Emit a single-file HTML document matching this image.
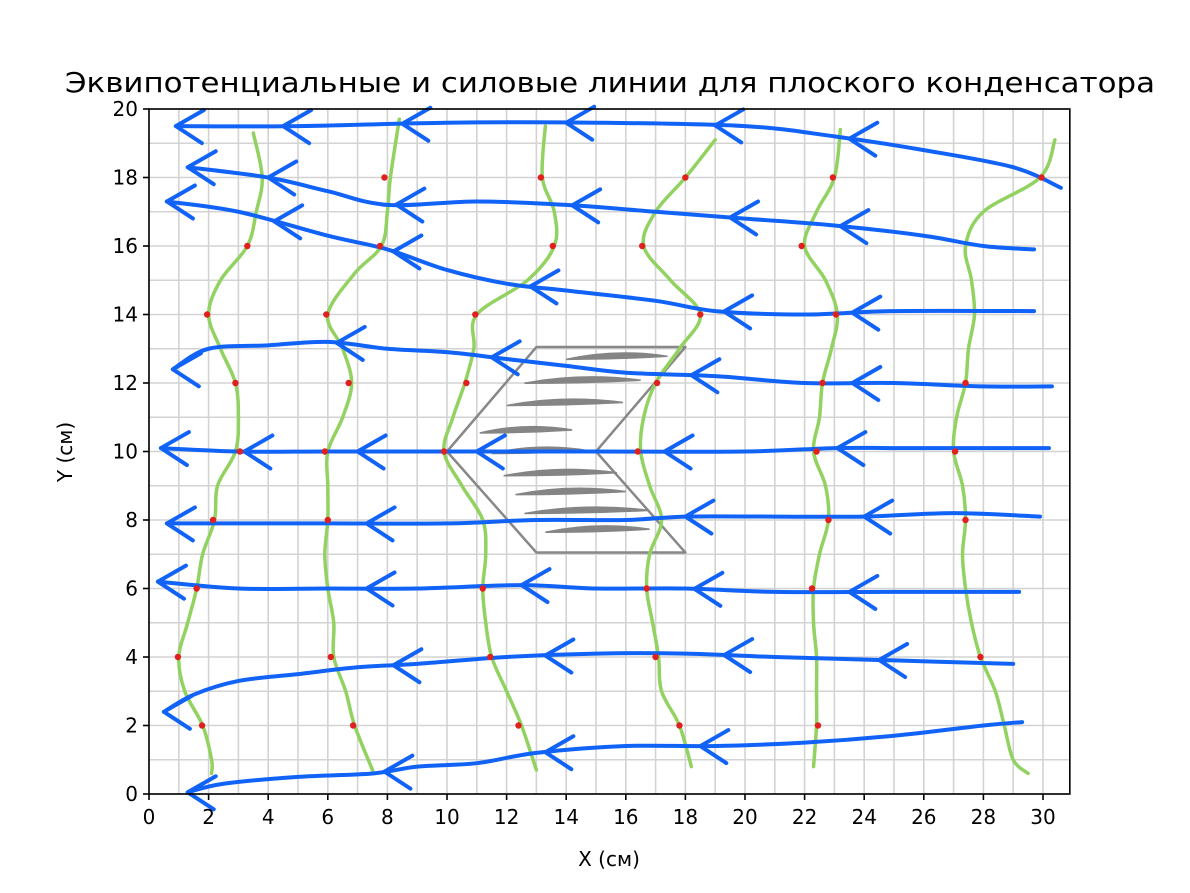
<!DOCTYPE html>
<html><head><meta charset="utf-8">
<style>
html,body{margin:0;padding:0;background:#fff;}
svg{display:block;font-family:"DejaVu Sans","Liberation Sans",sans-serif;}
</style></head>
<body>
<svg id="chart" width="1190" height="893" viewBox="0 0 1190 893" xmlns="http://www.w3.org/2000/svg">
<text x="610" y="92" font-size="27.5" text-anchor="middle" fill="#000" textLength="1090" lengthAdjust="spacingAndGlyphs">Эквипотенциальные и силовые линии для плоского конденсатора</text>
<text x="609" y="866" font-size="20" text-anchor="middle" fill="#000">X (см)</text>
<text transform="translate(72,452) rotate(-90)" font-size="20" text-anchor="middle" fill="#000">Y (см)</text>
<g id="grid"></g>
<g id="gray"></g>
<g id="green"></g>
<g id="blue"></g>
<g id="dots"></g>
<g id="axes"></g>
</svg>
<script>
const xTicks=[0,2,4,6,8,10,12,14,16,18,20,22,24,26,28,30];
const yTicks=[0,2,4,6,8,10,12,14,16,18,20];
const measuredX=[3.3,1.95,2.9,3.05,2.15,1.6,0.97,1.78, 7.75,5.95,6.7,5.9,6.0,6.1,6.85, 13.15,13.55,10.95,10.65,9.9,11.2,11.45,12.4, 18.0,16.55,18.5,17.05,16.4,16.7,17.0,17.8, 22.95,21.9,23.05,22.6,22.4,22.8,22.25,22.45, 29.95,27.4,27.05,27.4,27.9];
const measuredY=[16,14,12,10,8,6,4,2, 16,14,12,10,8,4,2, 18,16,14,12,10,6,4,2, 18,16,14,12,10,6,4,2, 18,16,14,12,10,8,6,2, 18,12,10,8,4];
const measuredX2=[7.9];const measuredY2=[18];
const eq1=[[3.5,19.3],[3.8,18],[3.6,17],[3.3,16],[2.4,15],[2.0,14],[2.4,13],[2.9,12],[3.0,11],[2.9,10],[2.3,9],[2.2,8],[1.8,7],[1.6,6],[1.3,5],[1.0,4],[1.2,3],[1.8,2],[2.1,1],[2.1,0.6]];
const eq2=[[8.4,19.7],[8.1,18],[8.0,17],[7.8,16],[6.9,15.2],[6.0,14],[6.5,13],[6.8,12],[6.5,11],[6.0,10],[6.0,9],[6.0,8],[5.9,7],[6.0,6],[6.2,5],[6.2,4],[6.6,3],[6.9,2],[7.5,0.7]];
const eq3=[[13.3,19.5],[13.2,18],[13.6,17],[13.6,16],[12.7,15],[11.0,14],[10.9,13],[10.6,12],[10.2,11],[9.9,10],[10.5,9],[11.2,8],[11.3,7],[11.2,6],[11.3,5],[11.5,4],[12.0,3],[12.5,2],[13.0,0.7]];
const eq4=[[19.0,19.1],[18,18],[17,17],[16.6,16],[17.5,15],[18.5,14],[17.8,13],[17,12],[16.6,11],[16.5,10],[16.8,9],[17.2,8],[16.8,7],[16.7,6],[16.9,5],[17.1,4],[17.2,3],[17.8,2],[18.2,0.8]];
const eq5=[[23.2,19.4],[23,18],[22.4,17],[22,16],[22.7,15],[23.1,14],[22.9,13],[22.6,12],[22.5,11],[22.3,10],[22.7,9],[22.8,8],[22.5,7],[22.3,6],[22.3,5],[22.4,4],[22.4,3],[22.4,2],[22.3,0.8]];
const eq6=[[30.4,19.1],[29.9,18],[28.0,17],[27.4,16],[27.6,15],[27.7,14],[27.5,13],[27.4,12],[27.1,11],[27.0,10],[27.3,9],[27.4,8],[27.3,7],[27.4,6],[27.6,5],[27.9,4],[28.4,3],[28.7,2],[29,1],[29.5,0.6]];
const f1=[[30.6,17.7],[29,18.3],[26,18.8],[23,19.2],[20,19.5],[15,19.6],[10,19.6],[5,19.5],[1,19.5]];
const f2=[[29.7,15.9],[28,16.0],[26,16.3],[23,16.6],[20,16.8],[17,17.0],[14,17.2],[11,17.3],[8,17.2],[6,17.6],[4,18],[1.3,18.3]];
const f3=[[29.7,14.1],[25,14.1],[22,14.0],[19,14.1],[17,14.4],[14,14.7],[12,14.9],[10,15.3],[8,15.9],[6,16.3],[3,17.0],[0.6,17.3]];
const f4=[[30.3,11.9],[28,11.9],[25,12.0],[22,12.0],[19,12.2],[16,12.3],[14,12.5],[12,12.7],[10,12.9],[8,13.0],[6,13.2],[4,13.1],[2,13.0],[0.8,12.4]];
const f5=[[30.2,10.1],[28,10.1],[25,10.1],[23,10.1],[20,10.0],[15,10.0],[10,10.0],[6,10.0],[3,10.0],[0.4,10.1]];
const f6=[[29.9,8.1],[27,8.2],[24,8.1],[21,8.1],[18,8.1],[16,8.0],[13,8.0],[10,7.9],[6,7.9],[3,7.9],[0.6,7.9]];
const f7=[[29.2,5.9],[25,5.9],[21,5.9],[18,6.0],[15,6.0],[12.5,6.1],[9,6.0],[6,6.0],[3,6.0],[0.3,6.2]];
const f8=[[29,3.8],[25,3.9],[21,4.0],[18,4.1],[15,4.1],[12,4.0],[9,3.8],[7,3.7],[5,3.5],[3,3.3],[1.5,2.9],[0.5,2.4]];
const f9=[[29.3,2.1],[28,2.0],[25,1.7],[22,1.5],[19,1.4],[16,1.4],[13,1.2],[11,0.9],[9,0.8],[7.5,0.6],[5,0.5],[2.5,0.3],[1.3,0.05]];
const arrowX1=[0.9,4.5,8.5,14,19,23.5];
const arrowX2=[1.3,4.0,8.3,14.2,19.5,23.2];
const arrowX3=[0.6,4.2,8.2,12.8,19.3,23.6];
const arrowX4=[0.8,6.3,11.5,18.2,23.6];
const arrowX5=[0.4,3.2,7.0,11.0,17.3,23.1];
const arrowX6=[0.6,7.3,18.0,24.0];
const arrowX7=[0.3,7.3,12.5,18.3,23.5];
const arrowX8=[0.5,8.2,13.3,19.3,24.5];
const arrowX9=[1.3,7.9,13.3,18.5];
const capOutline=[[10,10],[13,13.05],[18,13.05],[15,10],[18,7.05],[13,7.05],[10,10]];
const streakY=[12.75,12.05,11.4,10.6,10.0,9.35,8.8,8.25,7.7];
const streakX0=[14.0,12.6,12.0,11.1,11.5,11.9,12.3,12.6,13.3];
const streakX1=[17.4,16.5,15.9,14.2,14.7,15.7,16.0,16.8,16.8];

const X0=149,PX=29.8,Y0=794,PY=34.25;
const xs=v=>X0+v*PX, ys=v=>Y0-v*PY;
const NS="http://www.w3.org/2000/svg";
function mk(tag,parent,attrs){const e=document.createElementNS(NS,tag);for(const k in attrs)e.setAttribute(k,attrs[k]);parent.appendChild(e);return e;}
function smooth(pts){let d=`M${xs(pts[0][0])},${ys(pts[0][1])}`;
 for(let i=0;i<pts.length-1;i++){const p0=pts[Math.max(0,i-1)],p1=pts[i],p2=pts[i+1],p3=pts[Math.min(pts.length-1,i+2)];
  const c1x=xs(p1[0])+(xs(p2[0])-xs(p0[0]))/6,c1y=ys(p1[1])+(ys(p2[1])-ys(p0[1]))/6;
  const c2x=xs(p2[0])-(xs(p3[0])-xs(p1[0]))/6,c2y=ys(p2[1])-(ys(p3[1])-ys(p1[1]))/6;
  d+=` C${c1x},${c1y} ${c2x},${c2y} ${xs(p2[0])},${ys(p2[1])}`;}
 return d;}
const grid=document.getElementById('grid');
for(let i=0;i<=30;i++){const l=mk('line',grid,{x1:xs(i),x2:xs(i),y1:ys(0),y2:ys(20),stroke:'#d3d3d3','stroke-width':1.6});
}
for(let j=0;j<=20;j++){const l=mk('line',grid,{x1:xs(0),x2:xs(30.9),y1:ys(j),y2:ys(j),stroke:'#d3d3d3','stroke-width':1.6});
}
const gray=document.getElementById('gray');
const outline=mk('polyline',gray,{points:capOutline.map(p=>xs(p[0])+','+ys(p[1])).join(' '),fill:'none',stroke:'#888','stroke-width':2.5,'stroke-linejoin':'round'});

streakY.forEach((y,i)=>{const a=xs(streakX0[i]),b=xs(streakX1[i]),yy=ys(y);
 const s=mk('path',gray,{d:`M${a},${yy+2} Q${(a+b)/2},${yy-9} ${b},${yy-1} Q${(a+b)/2},${yy+2} ${a},${yy+2}Z`,fill:'#858585',stroke:'#858585','stroke-width':1.5});
 });
const green=document.getElementById('green');
[eq1,eq2,eq3,eq4,eq5,eq6].forEach(pts=>{const p=mk('path',green,{d:smooth(pts),fill:'none',stroke:'#92d260','stroke-width':3.5,'stroke-linecap':'round'});
 });
const blue=document.getElementById('blue');
function yAt(pts,x){for(let i=0;i<pts.length-1;i++){const a=pts[i],b=pts[i+1];const lo=Math.min(a[0],b[0]),hi=Math.max(a[0],b[0]);if(x>=lo&&x<=hi){const t=(x-a[0])/((b[0]-a[0])||1);return a[1]+t*(b[1]-a[1]);}}return pts[pts.length-1][1];}
const fl=[f1,f2,f3,f4,f5,f6,f7,f8,f9],ar=[arrowX1,arrowX2,arrowX3,arrowX4,arrowX5,arrowX6,arrowX7,arrowX8,arrowX9];
fl.forEach((pts,k)=>{const p=mk('path',blue,{d:smooth(pts),fill:'none',stroke:'#1163f7','stroke-width':4,'stroke-linecap':'round'});
 
 ar[k].forEach(x=>{const tx=xs(x),ty=ys(yAt(pts,x));
  const a=mk('path',blue,{d:`M${tx+28},${ty-16} L${tx},${ty} L${tx+26},${ty+17}`,fill:'none',stroke:'#1163f7','stroke-width':4,'stroke-linecap':'round','stroke-linejoin':'round'});
  });});
const dots=document.getElementById('dots');
measuredX.concat(measuredX2).forEach((x,i)=>{const y=measuredY.concat(measuredY2)[i];
 const c=mk('circle',dots,{cx:xs(x),cy:ys(y),r:3.2,fill:'#e0201e'});
 });
const axes=document.getElementById('axes');
const fr=mk('rect',axes,{x:xs(0),y:ys(20),width:xs(30.9)-xs(0),height:ys(0)-ys(20),fill:'none',stroke:'#000','stroke-width':1.6});

xTicks.forEach(v=>{const t=mk('line',axes,{x1:xs(v),x2:xs(v),y1:ys(0),y2:ys(0)+6,stroke:'#000','stroke-width':1.6});
 
 const l=mk('text',axes,{x:xs(v),y:ys(0)+30,'font-size':20,'text-anchor':'middle',fill:'#000'});l.textContent=v;
 });
yTicks.forEach(v=>{const t=mk('line',axes,{x1:xs(0)-6,x2:xs(0),y1:ys(v),y2:ys(v),stroke:'#000','stroke-width':1.6});
 
 const l=mk('text',axes,{x:xs(0)-11,y:ys(v)+7,'font-size':20,'text-anchor':'end',fill:'#000'});l.textContent=v;
 });
</script>
</body></html>
